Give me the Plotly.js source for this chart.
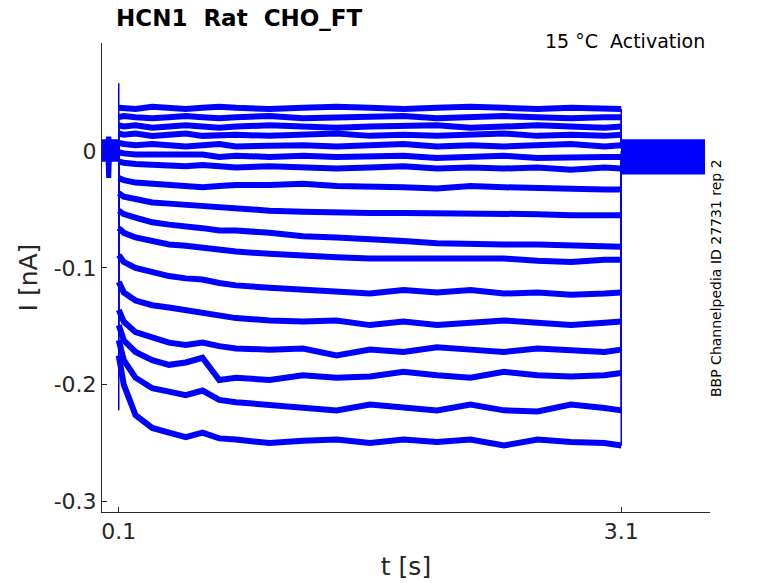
<!DOCTYPE html>
<html>
<head>
<meta charset="utf-8">
<script src="https://cdn.plot.ly/plotly-3.0.1.min.js"></script>
<style>
  body { margin: 0; background: #fff; }
  #myDiv { width: 778px; height: 583px; }
</style>
</head>
<body>
<div id="myDiv"></div>
<script>
// sample times of the voltage step (s)
var stepT = [0.1, 0.13, 0.2, 0.3, 0.4, 0.5, 0.6, 0.7, 0.8, 1.0, 1.2, 1.4, 1.6, 1.8, 2.0, 2.2, 2.4, 2.6, 2.8, 3.0, 3.1];
// sample times before and after the step (s)
var preT = [0, 0.035, 0.04, 0.045, 0.1];
var postT = [3.1, 3.6];

// current during the step (nA), one row per sweep, top to bottom
var sweep1  = [0.037,0.037,0.036,0.038,0.037,0.036,0.037,0.038,0.037,0.036,0.037,0.038,0.037,0.036,0.037,0.038,0.037,0.036,0.037,0.037,0.036];
var sweep2  = [0.029,0.030,0.029,0.028,0.029,0.030,0.029,0.028,0.029,0.030,0.028,0.029,0.029,0.030,0.028,0.029,0.030,0.029,0.028,0.029,0.029];
var sweep3  = [0.022,0.021,0.022,0.020,0.021,0.022,0.021,0.020,0.021,0.022,0.021,0.020,0.021,0.021,0.022,0.020,0.021,0.022,0.021,0.020,0.021];
var sweep4  = [0.015,0.014,0.015,0.013,0.014,0.015,0.013,0.014,0.014,0.013,0.014,0.015,0.013,0.014,0.013,0.014,0.015,0.013,0.014,0.013,0.014];
var sweep5  = [0.007,0.006,0.005,0.006,0.005,0.004,0.005,0.006,0.004,0.005,0.005,0.004,0.005,0.006,0.004,0.005,0.004,0.005,0.006,0.004,0.005];
var sweep6  = [-0.001,-0.002,-0.003,-0.003,-0.004,-0.004,-0.003,-0.005,-0.004,-0.005,-0.004,-0.005,-0.005,-0.004,-0.006,-0.005,-0.004,-0.006,-0.005,-0.005,-0.005];
var sweep7  = [-0.009,-0.010,-0.011,-0.012,-0.012,-0.013,-0.012,-0.013,-0.014,-0.013,-0.014,-0.015,-0.014,-0.013,-0.015,-0.014,-0.015,-0.014,-0.016,-0.014,-0.015];
var sweep8  = [-0.023,-0.025,-0.027,-0.028,-0.030,-0.030,-0.031,-0.030,-0.029,-0.029,-0.028,-0.030,-0.030,-0.031,-0.032,-0.030,-0.031,-0.032,-0.032,-0.033,-0.033];
var sweep9  = [-0.036,-0.039,-0.041,-0.044,-0.045,-0.046,-0.047,-0.049,-0.050,-0.051,-0.052,-0.053,-0.053,-0.053,-0.053,-0.054,-0.053,-0.054,-0.055,-0.055,-0.055];
var sweep10 = [-0.051,-0.054,-0.057,-0.061,-0.063,-0.064,-0.066,-0.068,-0.068,-0.070,-0.073,-0.074,-0.075,-0.077,-0.079,-0.080,-0.080,-0.080,-0.081,-0.082,-0.082];
var sweep11 = [-0.066,-0.070,-0.074,-0.077,-0.080,-0.081,-0.083,-0.085,-0.086,-0.088,-0.090,-0.091,-0.092,-0.092,-0.091,-0.092,-0.092,-0.094,-0.095,-0.093,-0.093];
var sweep12 = [-0.089,-0.095,-0.100,-0.104,-0.107,-0.109,-0.110,-0.113,-0.115,-0.117,-0.119,-0.121,-0.122,-0.119,-0.121,-0.119,-0.122,-0.121,-0.123,-0.122,-0.121];
var sweep13 = [-0.112,-0.121,-0.128,-0.132,-0.134,-0.136,-0.138,-0.140,-0.143,-0.145,-0.146,-0.145,-0.149,-0.146,-0.149,-0.147,-0.145,-0.147,-0.149,-0.147,-0.146];
var sweep14 = [-0.136,-0.146,-0.155,-0.160,-0.164,-0.166,-0.164,-0.167,-0.169,-0.170,-0.169,-0.175,-0.170,-0.172,-0.168,-0.170,-0.172,-0.169,-0.170,-0.172,-0.170];
var sweep15 = [-0.149,-0.162,-0.172,-0.179,-0.183,-0.181,-0.177,-0.196,-0.194,-0.196,-0.192,-0.194,-0.193,-0.189,-0.192,-0.194,-0.189,-0.192,-0.193,-0.192,-0.190];
var sweep16 = [-0.162,-0.179,-0.194,-0.203,-0.206,-0.209,-0.205,-0.213,-0.215,-0.217,-0.220,-0.222,-0.217,-0.220,-0.222,-0.217,-0.222,-0.223,-0.217,-0.220,-0.222];
var sweep17 = [-0.175,-0.200,-0.226,-0.237,-0.241,-0.245,-0.241,-0.246,-0.247,-0.250,-0.248,-0.247,-0.250,-0.247,-0.249,-0.247,-0.252,-0.247,-0.249,-0.250,-0.252];

// holding current before the step, value at the 0.04 s glitch, onset transient, tail after the step (nA)
var holdI   = [0.006, 0.004, 0.008, 0.002, -0.002, 0.000, -0.004, 0.005, -0.006, 0.001, -0.001, 0.003, -0.003, 0.007, -0.007, 0.002, -0.005];
var glitchI = [0.006, 0.004, 0.012, 0.002, -0.002, 0.000, -0.004, 0.005, -0.006, 0.001, -0.023, 0.003, -0.003, 0.007, -0.007, 0.002, -0.005];
var onsetI  = [0.058, 0.029, 0.022, 0.015, 0.007, -0.001, -0.009, -0.023, -0.036, -0.051, -0.066, -0.089, -0.112, -0.136, -0.149, -0.162, -0.222];
var tailI   = [0.008, 0.005, 0.006, 0.002, 0.003, 0.000, -0.002, -0.004, -0.006, -0.008, -0.010, -0.011, -0.013, -0.014, -0.015, -0.016, -0.018];

var sweeps = [sweep1, sweep2, sweep3, sweep4, sweep5, sweep6, sweep7, sweep8, sweep9,
              sweep10, sweep11, sweep12, sweep13, sweep14, sweep15, sweep16, sweep17];

var font = 'DejaVu Sans, Liberation Sans, sans-serif';
var ink = '#262626';
var blue = '#0000ff';

function seg(x, y, w) {
    return {
        x: x, y: y,
        mode: 'lines', type: 'scatter',
        line: {color: blue, width: w},
        hoverinfo: 'skip', showlegend: false
    };
}

var data = [];
for (var i = 0; i < sweeps.length; i++) {
    var s = sweeps[i];
    // noisy recordings drawn as thick bands
    data.push(seg(preT, [holdI[i], holdI[i], glitchI[i], holdI[i], holdI[i]], 5));
    data.push(seg(stepT, s, 6));
    data.push(seg(postT, [tailI[i], tailI[i]], 5));
    // fast jumps at step on/off
    data.push(seg([0.1, 0.1, 0.1], [holdI[i], onsetI[i], s[0]], 1.5));
    data.push(seg([3.1, 3.1], [s[s.length - 1], tailI[i]], 1.5));
}

var layout = {
    width: 778,
    height: 583,
    margin: {l: 102, r: 68, t: 43, b: 71},
    paper_bgcolor: '#ffffff',
    plot_bgcolor: '#ffffff',
    showlegend: false,
    font: {family: font, color: ink},
    title: {
        text: '<b>HCN1 \u00a0Rat \u00a0CHO_FT</b>',
        font: {family: font, size: 23, color: '#000000'},
        x: 116 / 778, xanchor: 'left',
        y: 1 - 18 / 583, yanchor: 'middle'
    },
    xaxis: {
        range: [0, 3.63],
        tickvals: [0.1, 3.1],
        ticktext: ['0.1', '3.1'],
        ticks: 'inside', ticklen: 5, tickcolor: ink, tickwidth: 1,
        showline: true, linecolor: ink, linewidth: 1,
        showgrid: false, zeroline: false,
        tickfont: {family: font, size: 22, color: ink},
        title: {text: 't [s]', font: {family: font, size: 25, color: ink}, standoff: 14}
    },
    yaxis: {
        range: [-0.309, 0.0925],
        tickvals: [-0.3, -0.2, -0.1, 0],
        ticktext: ['-0.3', '-0.2', '-0.1', '0'],
        ticks: 'inside', ticklen: 5, tickcolor: ink, tickwidth: 1,
        showline: true, linecolor: ink, linewidth: 1,
        showgrid: false, zeroline: false,
        tickfont: {family: font, size: 22, color: ink},
        title: {text: 'I [nA]', font: {family: font, size: 25, color: ink}, standoff: 8}
    },
    annotations: [
        {
            text: '15 \u00b0C \u00a0Activation',
            xref: 'paper', yref: 'paper',
            x: 0.995, y: 1.004, xanchor: 'right', yanchor: 'middle',
            showarrow: false,
            font: {family: font, size: 19, color: '#000000'}
        },
        {
            text: 'BBP Channelpedia ID 27731 rep 2',
            xref: 'paper', yref: 'paper',
            x: 1.0099, y: 0.499, xanchor: 'center', yanchor: 'middle',
            textangle: -90,
            showarrow: false,
            font: {family: font, size: 14, color: '#000000'}
        }
    ]
};

Plotly.newPlot('myDiv', data, layout, {staticPlot: true});
</script>
</body>
</html>
